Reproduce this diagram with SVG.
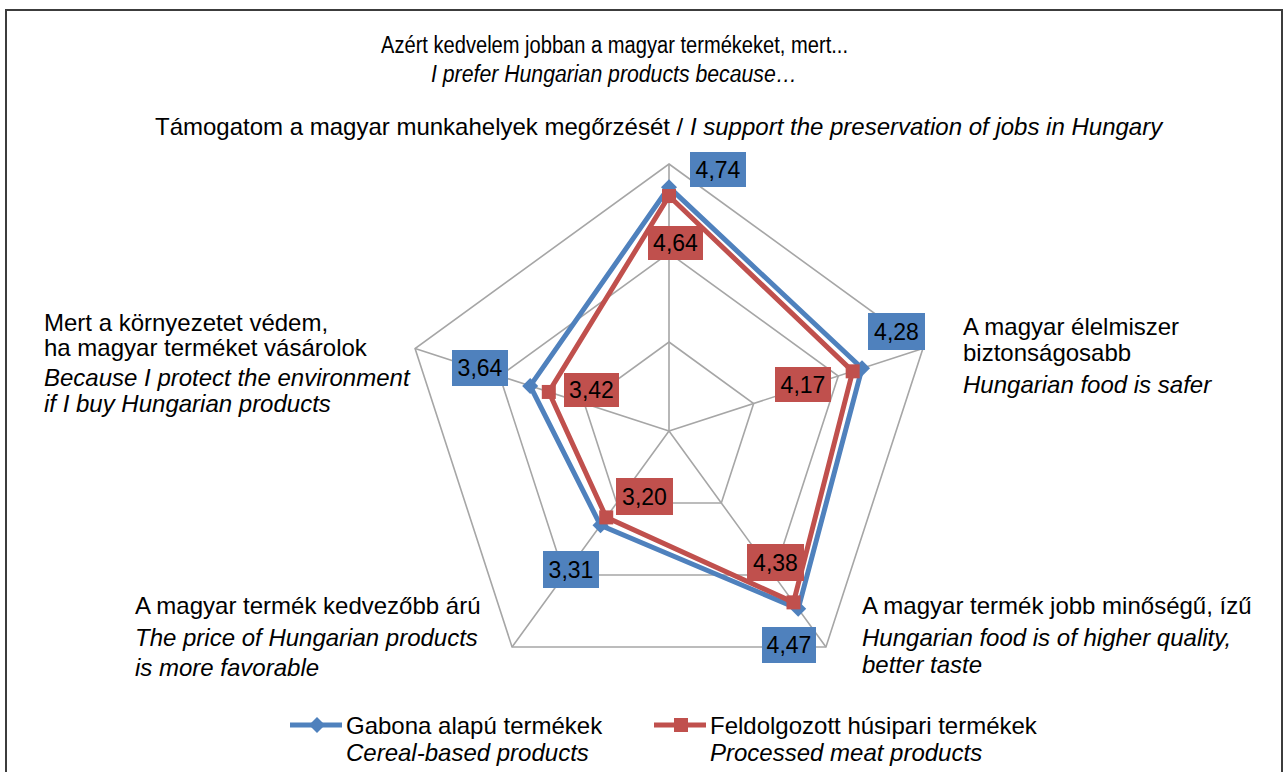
<svg xmlns="http://www.w3.org/2000/svg" width="1285" height="772" viewBox="0 0 1285 772">
<style>
text{font-family:"Liberation Sans",Arial,sans-serif;fill:#000}
.t{font-size:24px}
.tt{font-size:23px}
.it{font-style:italic}
.grid{fill:none;stroke:#a6a6a6;stroke-width:1.6}
.blue{fill:none;stroke:#4f81bd;stroke-width:5;stroke-linejoin:miter}
.red{fill:none;stroke:#c0504d;stroke-width:5;stroke-linejoin:miter}
.bb{fill:#4f81bd}
.rb{fill:#c0504d}
.num{font-size:23px;text-anchor:middle}
</style>
<defs>
<path id="dia" d="M0,-8 L8,0 L0,8 L-8,0 Z" fill="#4f81bd"/>
<rect id="sq" x="-7" y="-7" width="14" height="14" fill="#c0504d"/>
</defs>
<rect x="0" y="0" width="1285" height="772" fill="#fff"/>
<rect x="6" y="10" width="1276" height="790" fill="none" stroke="#3c3c3c" stroke-width="2"/>

<g id="title">
<text class="tt" x="381" y="53" textLength="467" lengthAdjust="spacingAndGlyphs">Azért kedvelem jobban a magyar termékeket, mert...</text>
<text class="tt it" x="431" y="82" textLength="366" lengthAdjust="spacingAndGlyphs">I prefer Hungarian products because…</text>
</g>

<g id="grid">
<polygon class="grid" points="669,164 922.93,348.49 825.94,647.01 512.06,647.01 415.07,348.49"/>
<polygon class="grid" points="669,253 838.29,376 773.63,575.01 564.37,575.01 499.71,376"/>
<polygon class="grid" points="669,342 753.64,403.5 721.31,503 616.69,503 584.36,403.5"/>
<path class="grid" d="M669,431 L669,164 M669,431 L922.93,348.49 M669,431 L825.94,647.01 M669,431 L512.06,647.01 M669,431 L415.07,348.49"/>
</g>

<g id="connectors">
<polygon class="blue" points="669,187.14 861.99,368.29 798.21,608.85 600.47,525.32 530.18,385.9"/>
<polygon class="red" points="669,196.04 852.68,371.32 793.51,602.37 606.22,517.4 548.81,391.95"/>
<use href="#dia" x="669" y="187.14"/>
<use href="#dia" x="861.99" y="368.29"/>
<use href="#dia" x="798.21" y="608.85"/>
<use href="#dia" x="600.47" y="525.32"/>
<use href="#dia" x="530.18" y="385.9"/>
<use href="#sq" x="669" y="196.04"/>
<use href="#sq" x="852.68" y="371.32"/>
<use href="#sq" x="793.51" y="602.37"/>
<use href="#sq" x="606.22" y="517.4"/>
<use href="#sq" x="548.81" y="391.95"/>
</g>

<g id="axis-jobs">
<text class="t" x="155" y="135">Támogatom a magyar munkahelyek megőrzését / <tspan class="it">I support the preservation of jobs in Hungary</tspan></text>
</g>
<g id="axis-safer">
<text class="t" x="963" y="335">A magyar élelmiszer</text>
<text class="t" x="963" y="361">biztonságosabb</text>
<text class="t it" x="963" y="393">Hungarian food is safer</text>
</g>
<g id="axis-quality">
<text class="t" x="862" y="614">A magyar termék jobb minőségű, ízű</text>
<text class="t it" x="862" y="646">Hungarian food is of higher quality,</text>
<text class="t it" x="862" y="673">better taste</text>
</g>
<g id="axis-price">
<text class="t" x="135" y="614">A magyar termék kedvezőbb árú</text>
<text class="t it" x="135" y="646">The price of Hungarian products</text>
<text class="t it" x="135" y="676">is more favorable</text>
</g>
<g id="axis-environment">
<text class="t" x="44" y="331">Mert a környezetet védem,</text>
<text class="t" x="44" y="356">ha magyar terméket vásárolok</text>
<text class="t it" x="44" y="386">Because I protect the environment</text>
<text class="t it" x="44" y="412">if I buy Hungarian products</text>
</g>

<g id="label-474"><rect class="bb" x="690" y="152" width="56" height="35"/><text class="num" x="718" y="178">4,74</text></g>
<g id="label-464"><rect class="rb" x="648" y="226" width="55" height="34"/><text class="num" x="675.5" y="251">4,64</text></g>
<g id="label-428"><rect class="bb" x="868" y="313" width="57" height="37"/><text class="num" x="896.5" y="340">4,28</text></g>
<g id="label-417"><rect class="rb" x="775" y="367" width="56" height="35"/><text class="num" x="803" y="393">4,17</text></g>
<g id="label-364"><rect class="bb" x="452" y="350" width="56" height="36"/><text class="num" x="480" y="376">3,64</text></g>
<g id="label-342"><rect class="rb" x="564" y="373" width="55" height="34"/><text class="num" x="591.5" y="398">3,42</text></g>
<g id="label-320"><rect class="rb" x="616" y="478" width="57" height="37"/><text class="num" x="644.5" y="505">3,20</text></g>
<g id="label-331"><rect class="bb" x="543" y="551" width="56" height="37"/><text class="num" x="571" y="578">3,31</text></g>
<g id="label-438"><rect class="rb" x="747" y="544" width="57" height="37"/><text class="num" x="775.5" y="571">4,38</text></g>
<g id="label-447"><rect class="bb" x="762" y="627" width="54" height="36"/><text class="num" x="789" y="653">4,47</text></g>

<g id="legend-cereal">
<line x1="290" y1="725" x2="342" y2="725" stroke="#4f81bd" stroke-width="5"/>
<use href="#dia" x="317" y="725"/>
<text class="t" x="346" y="734">Gabona alapú termékek</text>
<text class="t it" x="346" y="761">Cereal-based products</text>
</g>
<g id="legend-meat">
<line x1="654" y1="725" x2="706" y2="725" stroke="#c0504d" stroke-width="5"/>
<use href="#sq" x="681" y="725"/>
<text class="t" x="710" y="734">Feldolgozott húsipari termékek</text>
<text class="t it" x="710" y="761">Processed meat products</text>
</g>
</svg>
